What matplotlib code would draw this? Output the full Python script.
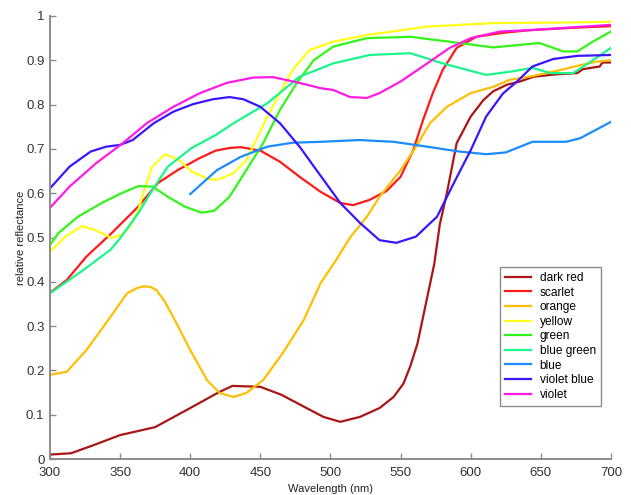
import matplotlib.pyplot as plt

plt.rcParams['font.family'] = ['Liberation Sans', 'DejaVu Sans']

# reflectance spectra (wavelength nm, reflectance)
dark_red_x = [300, 315, 330, 350, 375, 400, 420, 430, 450, 465, 480, 495, 507, 521, 535,
              545, 552, 557, 562, 566, 570, 574, 578, 583, 590, 600, 609, 616, 626, 635,
              645, 660, 676, 680, 692, 694, 700]
dark_red_y = [0.01, 0.013, 0.03, 0.054, 0.072, 0.115, 0.15, 0.165, 0.163, 0.145, 0.12, 0.095,
              0.084, 0.095, 0.115, 0.14, 0.17, 0.21, 0.26, 0.32, 0.38, 0.44, 0.53, 0.60, 0.713,
              0.773, 0.81, 0.83, 0.845, 0.852, 0.863, 0.868, 0.871, 0.88, 0.886, 0.895, 0.895]

scarlet_x = [300, 312, 326, 344, 363, 377, 391, 406, 418, 428, 436, 450, 464, 478, 493, 507,
             516, 528, 540, 550, 559, 566, 573, 580, 590, 604, 623, 642, 670, 700]
scarlet_y = [0.375, 0.404, 0.457, 0.51, 0.57, 0.623, 0.652, 0.678, 0.696, 0.702, 0.704, 0.696,
             0.671, 0.637, 0.603, 0.578, 0.573, 0.585, 0.605, 0.637, 0.697, 0.765, 0.826, 0.878,
             0.928, 0.953, 0.962, 0.968, 0.973, 0.977]

orange_x = [300, 312, 326, 340, 355, 362, 367, 372, 376, 382, 388, 400, 412, 421, 431, 440,
            452, 466, 481, 493, 504, 514, 526, 535, 550, 561, 571, 583, 600, 616, 628, 642,
            664, 678, 690, 700]
orange_y = [0.19, 0.197, 0.246, 0.307, 0.374, 0.386, 0.39, 0.388, 0.381, 0.355, 0.32, 0.246,
            0.178, 0.149, 0.14, 0.149, 0.178, 0.239, 0.314, 0.397, 0.449, 0.50, 0.547, 0.592,
            0.652, 0.705, 0.758, 0.795, 0.826, 0.84, 0.856, 0.863, 0.878, 0.889, 0.897, 0.90]

yellow_x = [300, 311, 323, 332, 344, 351, 357, 363, 368, 373, 382, 392, 401, 413, 419, 431,
            440, 447, 455, 464, 473, 485, 502, 526, 569, 616, 660, 700]
yellow_y = [0.468, 0.502, 0.526, 0.517, 0.499, 0.506, 0.525, 0.562, 0.615, 0.66, 0.688, 0.675,
            0.649, 0.632, 0.63, 0.645, 0.675, 0.72, 0.773, 0.826, 0.878, 0.923, 0.942, 0.957,
            0.976, 0.984, 0.985, 0.987]

green_x = [300, 306, 320, 337, 351, 363, 373, 384, 396, 408, 417, 428, 440, 452, 464, 476,
           488, 502, 526, 557, 592, 616, 649, 666, 676, 687, 700]
green_y = [0.483, 0.51, 0.547, 0.578, 0.60, 0.616, 0.615, 0.592, 0.57, 0.556, 0.56, 0.592,
           0.652, 0.713, 0.788, 0.849, 0.90, 0.931, 0.95, 0.953, 0.939, 0.929, 0.939, 0.92,
           0.92, 0.942, 0.965]

blue_green_x = [300, 324, 343, 349, 363, 373, 384, 401, 418, 431, 455, 478, 502, 528, 557,
                580, 611, 630, 644, 657, 673, 687, 700]
blue_green_y = [0.374, 0.427, 0.472, 0.494, 0.555, 0.607, 0.66, 0.702, 0.731, 0.758, 0.803,
                0.863, 0.893, 0.912, 0.916, 0.893, 0.867, 0.875, 0.883, 0.871, 0.871, 0.90, 0.928]

blue_x = [400, 419, 436, 455, 473, 493, 521, 545, 569, 592, 611, 625, 644, 668, 678, 700]
blue_y = [0.598, 0.652, 0.682, 0.705, 0.714, 0.716, 0.72, 0.716, 0.705, 0.694, 0.688, 0.692,
          0.716, 0.716, 0.724, 0.761]

violet_blue_x = [300, 314, 329, 340, 350, 359, 374, 388, 402, 416, 428, 438, 450, 464, 478,
                 491, 507, 521, 535, 547, 561, 576, 588, 600, 611, 623, 633, 644, 659, 676, 700]
violet_blue_y = [0.611, 0.66, 0.694, 0.705, 0.709, 0.72, 0.758, 0.784, 0.801, 0.812, 0.817,
                 0.812, 0.795, 0.758, 0.705, 0.648, 0.578, 0.533, 0.494, 0.488, 0.502, 0.547,
                 0.623, 0.697, 0.773, 0.825, 0.852, 0.886, 0.903, 0.91, 0.912]

violet_x = [300, 314, 333, 352, 369, 388, 407, 426, 445, 459, 478, 493, 502, 514, 526, 535,
            550, 569, 585, 600, 621, 642, 700]
violet_y = [0.567, 0.615, 0.668, 0.713, 0.758, 0.795, 0.826, 0.849, 0.861, 0.862, 0.849, 0.837,
            0.833, 0.817, 0.815, 0.826, 0.852, 0.893, 0.928, 0.95, 0.965, 0.968, 0.98]

series = [
    ('dark red', dark_red_x, dark_red_y, '#aa1616'),
    ('scarlet', scarlet_x, scarlet_y, '#ff1a1a'),
    ('orange', orange_x, orange_y, '#ffbf00'),
    ('yellow', yellow_x, yellow_y, '#ffff1a'),
    ('green', green_x, green_y, '#33f51a'),
    ('blue green', blue_green_x, blue_green_y, '#1af58c'),
    ('blue', blue_x, blue_y, '#1a8cff'),
    ('violet blue', violet_blue_x, violet_blue_y, '#3d14ff'),
    ('violet', violet_x, violet_y, '#ff1ae6'),
]

fig = plt.figure(figsize=(6.31, 4.95), dpi=100)
ax = fig.add_axes([0.0792, 0.0727, 0.889, 0.895])

for name, xs, ys, col in series:
    ax.plot(xs, ys, color=col, lw=1.6, label=name)

ax.set_xlim(300, 700)
ax.set_ylim(0, 1)
ax.set_xticks(range(300, 701, 50))
ax.set_yticks([i / 10 for i in range(11)])
ax.set_yticklabels(['0', '0.1', '0.2', '0.3', '0.4', '0.5', '0.6', '0.7', '0.8', '0.9', '1'])

for side in ['top', 'right']:
    ax.spines[side].set_visible(False)
for side in ['left', 'bottom']:
    ax.spines[side].set_color('#8c8c8c')
    ax.spines[side].set_linewidth(1.4)
ax.tick_params(direction='in', length=4, width=1, color='#8c8c8c', labelsize=9.5,
               labelcolor='#333333')
ax.tick_params(axis='x', pad=6)
ax.tick_params(axis='y', pad=4)

ax.set_xlabel('Wavelength (nm)', fontsize=8, color='#222222', labelpad=3)
ax.set_ylabel('relative reflectance', fontsize=8, color='#222222', labelpad=0)

leg = ax.legend(loc='upper right', bbox_to_anchor=(0.993, 0.448), fontsize=8.6,
                handlelength=2.2, handletextpad=0.7, labelspacing=0.22,
                fancybox=False, borderpad=0.45, framealpha=1)
leg.get_frame().set_edgecolor('#8c8c8c')
leg.get_frame().set_linewidth(1.0)

plt.savefig('out.png', dpi=100)
